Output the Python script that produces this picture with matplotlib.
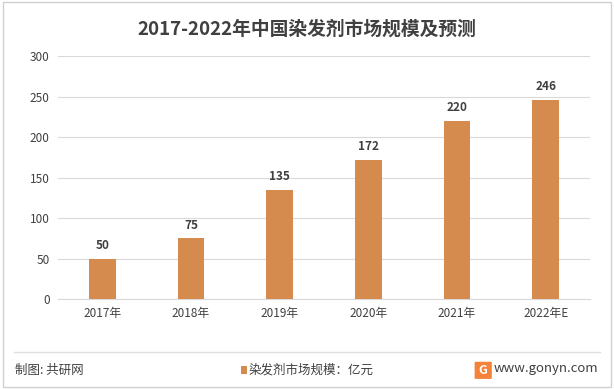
import matplotlib.pyplot as plt
from matplotlib.patches import Rectangle, FancyBboxPatch
from matplotlib.lines import Line2D

plt.rcParams['font.family'] = ['Noto Sans CJK SC', 'DejaVu Sans']

years = ["2017年", "2018年", "2019年", "2020年", "2021年", "2022年E"]
market_size = [50, 75, 135, 172, 220, 246]
bar_color = "#D58B4D"

fig = plt.figure(figsize=(6.14, 3.89), dpi=100)
ax = fig.add_axes([0.0945, 0.231, 0.8665, 0.625])

x = range(len(years))
bars = ax.bar(x, market_size, width=0.3, color=bar_color, zorder=3)
for b, v in zip(bars, market_size):
    ax.text(b.get_x() + b.get_width() / 2, v + 8, str(v), ha="center", va="bottom",
            fontsize=8.5, fontweight="bold", color="#404040")

ax.set_xlim(-0.5, len(years) - 0.5)
ax.set_ylim(0, 300)
ax.set_yticks(range(0, 301, 50))
ax.set_xticks(list(x))
ax.set_xticklabels(years)
ax.grid(axis="y", color="#d9d9d9", linewidth=0.8, zorder=0)
for s in ["top", "right", "left"]:
    ax.spines[s].set_visible(False)
ax.spines["bottom"].set_color("#d9d9d9")
ax.tick_params(axis="both", length=0, labelsize=8.5, colors="#404040", pad=6)

fig.text(0.5, 0.925, "2017-2022年中国染发剂市场规模及预测", ha="center", va="center",
         fontsize=13.5, fontweight="bold", color="#404040")

# outer frame
fig.patches.append(Rectangle((0.005, 0.005), 0.99, 0.99, transform=fig.transFigure,
                             fill=False, edgecolor="#d0d0d0", linewidth=1.0))
# footer separator
fig.lines.append(Line2D([0.023, 0.977], [0.095, 0.095], transform=fig.transFigure,
                        color="#e0e0e0", linewidth=1.0))

fig.text(0.025, 0.048, "制图: 共研网", ha="left", va="center", fontsize=9, color="#404040")
fig.patches.append(Rectangle((0.392, 0.038), 0.011, 0.022, transform=fig.transFigure,
                             facecolor=bar_color, edgecolor="none"))
fig.text(0.405, 0.048, "染发剂市场规模：亿元", ha="left", va="center", fontsize=9, color="#404040")
fig.patches.append(FancyBboxPatch((0.775, 0.028), 0.024, 0.04, boxstyle="round,pad=0.002",
                                  transform=fig.transFigure, facecolor="#F5823A", edgecolor="none"))
fig.text(0.787, 0.048, "G", ha="center", va="center", fontsize=9, fontweight="bold", color="white")
fig.text(0.975, 0.052, "www.gonyn.com", ha="right", va="center", fontsize=9.5, color="#404040")

fig.savefig("out.png", dpi=100)
